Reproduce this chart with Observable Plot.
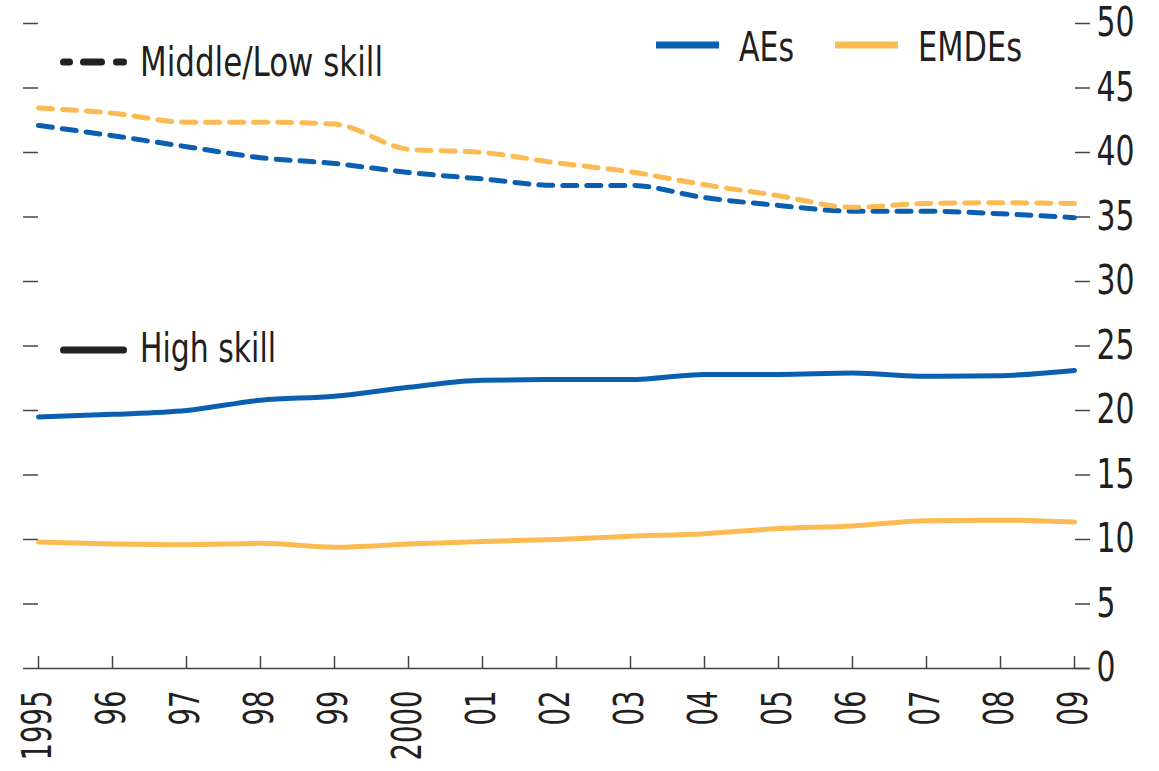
<!DOCTYPE html>
<html>
<head>
<meta charset="utf-8">
<script src="https://cdn.jsdelivr.net/npm/d3@7"></script>
<script src="https://cdn.jsdelivr.net/npm/@observablehq/plot@0.6"></script>
<style>
  html, body { margin: 0; padding: 0; background: #fff; }
  #chart svg { display: block; }
</style>
</head>
<body>
<div id="chart"></div>
<script>
// ---- data ----
const years = [1995, 1996, 1997, 1998, 1999, 2000, 2001, 2002, 2003, 2004, 2005, 2006, 2007, 2008, 2009];
const xTickLabels = ["1995", "96", "97", "98", "99", "2000", "01", "02", "03", "04", "05", "06", "07", "08", "09"];
const groups = ["AEs", "EMDEs"];
const skills = ["High skill", "Middle/Low skill"];
const aeHigh   = [19.5, 19.7, 20.0, 20.8, 21.1, 21.8, 22.35, 22.4, 22.4, 22.8, 22.8, 22.9, 22.65, 22.7, 23.1];
const emdeHigh = [9.8, 9.65, 9.6, 9.7, 9.4, 9.65, 9.85, 10.0, 10.25, 10.45, 10.85, 11.05, 11.45, 11.5, 11.35];
const aeMid    = [42.1, 41.3, 40.45, 39.6, 39.15, 38.45, 37.95, 37.45, 37.45, 36.5, 35.9, 35.45, 35.45, 35.25, 34.95];
const emdeMid  = [43.45, 43.05, 42.35, 42.35, 42.2, 40.25, 40.0, 39.2, 38.5, 37.5, 36.65, 35.75, 36.05, 36.1, 36.05];
const yTicks = [0, 5, 10, 15, 20, 25, 30, 35, 40, 45, 50];
const colors = ["#0b5fb0", "#fcbb52"];

// ---- table ----
const rows = [];
years.forEach((yr, i) => {
  rows.push({year: yr, value: aeHigh[i], group: "AEs", skill: "High skill"});
  rows.push({year: yr, value: emdeHigh[i], group: "EMDEs", skill: "High skill"});
  rows.push({year: yr, value: aeMid[i], group: "AEs", skill: "Middle/Low skill"});
  rows.push({year: yr, value: emdeMid[i], group: "EMDEs", skill: "Middle/Low skill"});
});
const labelOf = new Map(years.map((y, i) => [y, xTickLabels[i]]));

const FONT = "'DejaVu Sans Condensed', 'Liberation Sans Narrow', sans-serif";
const INK = "#231f20";

const chart = Plot.plot({
  width: 1159,
  height: 771,
  marginTop: 23,
  marginBottom: 103,
  marginLeft: 38,
  marginRight: 85,
  style: {fontFamily: FONT, fontSize: "40px", color: INK, background: "#fff"},
  x: {type: "linear", domain: [1995, 2009]},
  y: {domain: [0, 50]},
  color: {domain: groups, range: colors},
  marks: [
    Plot.axisY({anchor: "right", ticks: yTicks, tickSize: 15, tickPadding: 7, label: null,
      stroke: "#444", strokeWidth: 1.5, fontSize: 40, fill: INK}),
    Plot.axisY({anchor: "left", ticks: yTicks.slice(1), tickSize: 15, tickFormat: () => "", label: null,
      stroke: "#444", strokeWidth: 1.5}),
    Plot.axisX({anchor: "bottom", ticks: years, tickSize: -12, tickFormat: () => "", label: null,
      stroke: "#444", strokeWidth: 1.5}),
    Plot.axisX({anchor: "bottom", ticks: years, tickSize: 0, tickPadding: 22, tickRotate: -90,
      tickFormat: d => labelOf.get(d), label: null, fontSize: 40, fill: INK}),
    Plot.ruleY([0], {stroke: "#444", strokeWidth: 1.5, insetLeft: -15, insetRight: -15}),
    Plot.line(rows.filter(d => d.skill === "Middle/Low skill"), {
      x: "year", y: "value", z: "group", stroke: "group", strokeWidth: 5,
      strokeDasharray: "14,10", curve: "monotone-x"
    }),
    Plot.line(rows.filter(d => d.skill === "High skill"), {
      x: "year", y: "value", z: "group", stroke: "group", strokeWidth: 5, curve: "monotone-x"
    })
  ]
});

document.getElementById("chart").appendChild(chart);

const svg = d3.select(chart);

// condense tick labels to match the narrow typeface of the original
svg.selectAll('g[aria-label="y-axis tick label"] text').each(function () {
  const n = this.textContent.length;
  if (n) d3.select(this).attr("textLength", n * 19).attr("lengthAdjust", "spacingAndGlyphs");
});
svg.selectAll('g[aria-label="x-axis tick label"] text').each(function () {
  const n = this.textContent.length;
  if (n) d3.select(this).attr("textLength", n * 17.5).attr("lengthAdjust", "spacingAndGlyphs");
});

// ---- legends drawn into the svg ----
const leg = svg.append("g").attr("font-family", FONT).attr("font-size", 40)
  .attr("fill", INK).attr("text-anchor", "start");

const skillLeg = [
  {label: skills[1], y: 62, base: 76, dash: "6,14,18,15,7", len: 243},
  {label: skills[0], y: 350, base: 362, dash: null, len: 136}
];
skillLeg.forEach(s => {
  leg.append("line").attr("x1", 63.5).attr("x2", 123.5).attr("y1", s.y).attr("y2", s.y)
    .attr("stroke", "#222").attr("stroke-width", 7).attr("stroke-linecap", "round")
    .attr("stroke-dasharray", s.dash);
  leg.append("text").attr("x", 140).attr("y", s.base)
    .attr("textLength", s.len).attr("lengthAdjust", "spacingAndGlyphs").text(s.label);
});

const grpLeg = [
  {label: groups[0], x: 656, color: colors[0], len: 55},
  {label: groups[1], x: 835, color: colors[1], len: 104}
];
grpLeg.forEach(g => {
  leg.append("line").attr("x1", g.x).attr("x2", g.x + 63).attr("y1", 45).attr("y2", 45)
    .attr("stroke", g.color).attr("stroke-width", 7);
  leg.append("text").attr("x", g.x + 83).attr("y", 61)
    .attr("textLength", g.len).attr("lengthAdjust", "spacingAndGlyphs").text(g.label);
});
</script>
</body>
</html>
